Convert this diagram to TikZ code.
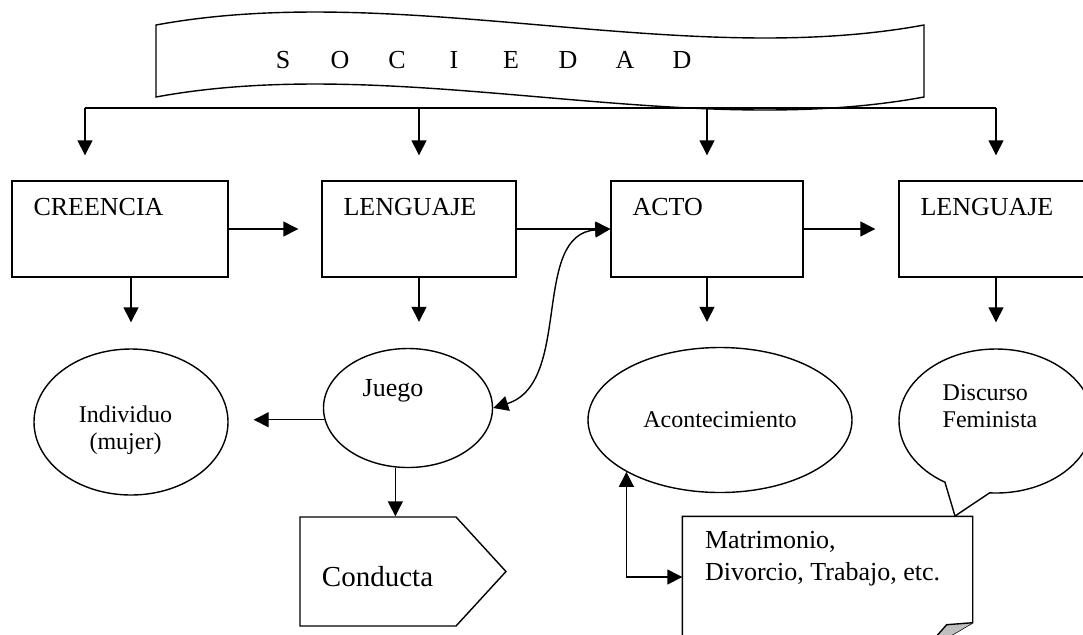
\documentclass[tikz,border=0pt]{standalone}
\usepackage{fontspec}
\setmainfont{Liberation Serif}
\usepackage{tikz}
\usetikzlibrary{
    shapes.geometric,
    shapes.symbols,
    shapes.callouts,
    arrows.meta
}
\newcommand{\grande}{\fontsize{13}{16}\selectfont}
\newcommand{\chica}{\fontsize{12}{13.5}\selectfont}

\begin{document}
\begin{tikzpicture}[
    x=0.5pt, y=-0.5pt,
    line width=0.7pt,
    flecha/.style={-{Triangle[length=7.5pt,width=7.5pt]}},
    doble/.style={{Triangle[length=7.5pt,width=7.5pt]}-{Triangle[length=7.5pt,width=7.5pt]}},
    caja/.style={draw, rectangle, minimum height=48pt, inner sep=0pt},
    titulo/.style={anchor=west, inner sep=0pt, xshift=10.75pt, yshift=-13.5pt, font=\grande},
    elipse/.style={draw, ellipse, inner sep=0pt, font=\chica}
]
    \useasboundingbox (0,0) rectangle (1083,634);
    \clip (0,0) rectangle (1083,634);

    % banner
    \draw (156,25) .. controls (400,-20) and (680,70) .. (924,25) -- (924,97)
        .. controls (680,142) and (400,52) .. (156,97) -- cycle;
    \node[font=\grande, inner sep=0pt] (sociedad) at (482.5,60)
        {\foreach \l in {S,O,C,I,E,D,A,D}{\makebox[28.5pt]{\l}}};

    % first row
    \node[caja, minimum width=108pt, label={[titulo]north west:CREENCIA}] (creencia) at (120,229) {};
    \node[caja, minimum width=97pt, label={[titulo]north west:LENGUAJE}] (lenguaje) at (419,229) {};
    \node[caja, minimum width=96pt, label={[titulo]north west:ACTO}] (acto) at (707,229) {};
    \node[caja, minimum width=97pt, label={[titulo]north west:LENGUAJE}] (lenguajeb) at (996,229) {};

    \coordinate (bus1) at (85,108);
    \coordinate (bus4) at (996,108);
    \draw (bus1) -- (bus4);
    \draw[flecha, shorten >=12.5pt] (bus1) -- (bus1 |- creencia.north);
    \draw[flecha, shorten >=12.5pt] (lenguaje.north |- bus1) -- (lenguaje.north);
    \draw[flecha, shorten >=12.5pt] (acto.north |- bus1) -- (acto.north);
    \draw[flecha, shorten >=12.5pt] (bus4) -- (lenguajeb.north);

    \draw[flecha, shorten >=11.5pt] (creencia.east) -- (lenguaje.west);
    \draw[flecha] (lenguaje.east) -- (acto.west);
    \draw[flecha, shorten >=11.5pt] (acto.east) -- (lenguajeb.west);

    % second row
    \node[elipse, minimum width=97pt, minimum height=73pt,
        label={[shift={(-2.75pt,-4.25pt)}, align=center, font=\chica]center:{Individuo\\(mujer)}}]
        (individuo) at (131,422) {};
    \node[elipse, minimum width=84.5pt, minimum height=59.5pt,
        label={[shift={(-7.5pt,8.5pt)}, font=\grande]center:Juego}] (juego) at (408,408) {};
    \node[elipse, minimum width=132pt, minimum height=72.5pt] (acont) at (720,420) {Acontecimiento};
    \node[draw, ellipse callout, inner sep=0pt, minimum width=97pt, minimum height=72pt,
        callout absolute pointer={(955,516)}, callout pointer arc=28,
        label={[shift={(-3pt,7.5pt)}, align=left, font=\chica]center:{Discurso\\Feminista}}]
        (discurso) at (996,421) {};

    \draw[flecha, shorten >=13pt] (creencia.south -| individuo.north) -- (individuo.north);
    \draw[flecha, shorten >=13pt] (lenguaje.south) -- (lenguaje.south |- juego.north);
    \draw[flecha, shorten >=12.5pt] (acto.south) -- (acto.south |- acont.north);
    \draw[flecha, shorten >=13pt] (lenguajeb.south) -- (discurso.north);

    \draw[flecha, shorten >=12.5pt] (juego.188) -- (juego.188 -| individuo.east);
    \draw[doble] (juego.east) .. controls +(80,-25) and +(-80,5) .. (acto.west);

    % third row
    \node[draw, signal, signal to=east, signal pointer angle=95, inner sep=0pt,
        minimum width=103pt, minimum height=54.5pt,
        label={[anchor=west, inner sep=0pt, xshift=11pt, yshift=-2.75pt,
            font=\fontsize{14.5}{17}\selectfont]west:Conducta}]
        (conducta) at (378,571.5) {};
    \draw[flecha] (juego.258) -- (juego.258 |- conducta.north);

    \node[minimum width=144.5pt, minimum height=67.5pt, inner sep=0pt,
        label={[anchor=west, align=left, inner sep=0pt, xshift=11pt, yshift=-21pt,
            font=\grande]north west:{Matrimonio,\\Divorcio, Trabajo, etc.}}]
        (matrim) at (827.5,584.5) {};
    \draw (matrim.north west) -- (matrim.north east) -- ([yshift=15pt]matrim.south east)
        -- ([xshift=-25.5pt]matrim.south east) -- (matrim.south west) -- cycle;
    \draw[fill=black!25] ([yshift=15pt]matrim.south east) -- ([xshift=-13pt,yshift=14pt]matrim.south east)
        -- ([xshift=-25.5pt]matrim.south east);
    \draw[doble] (acont.209) |- ([yshift=3.75pt]matrim.west);
\end{tikzpicture}
\end{document}
